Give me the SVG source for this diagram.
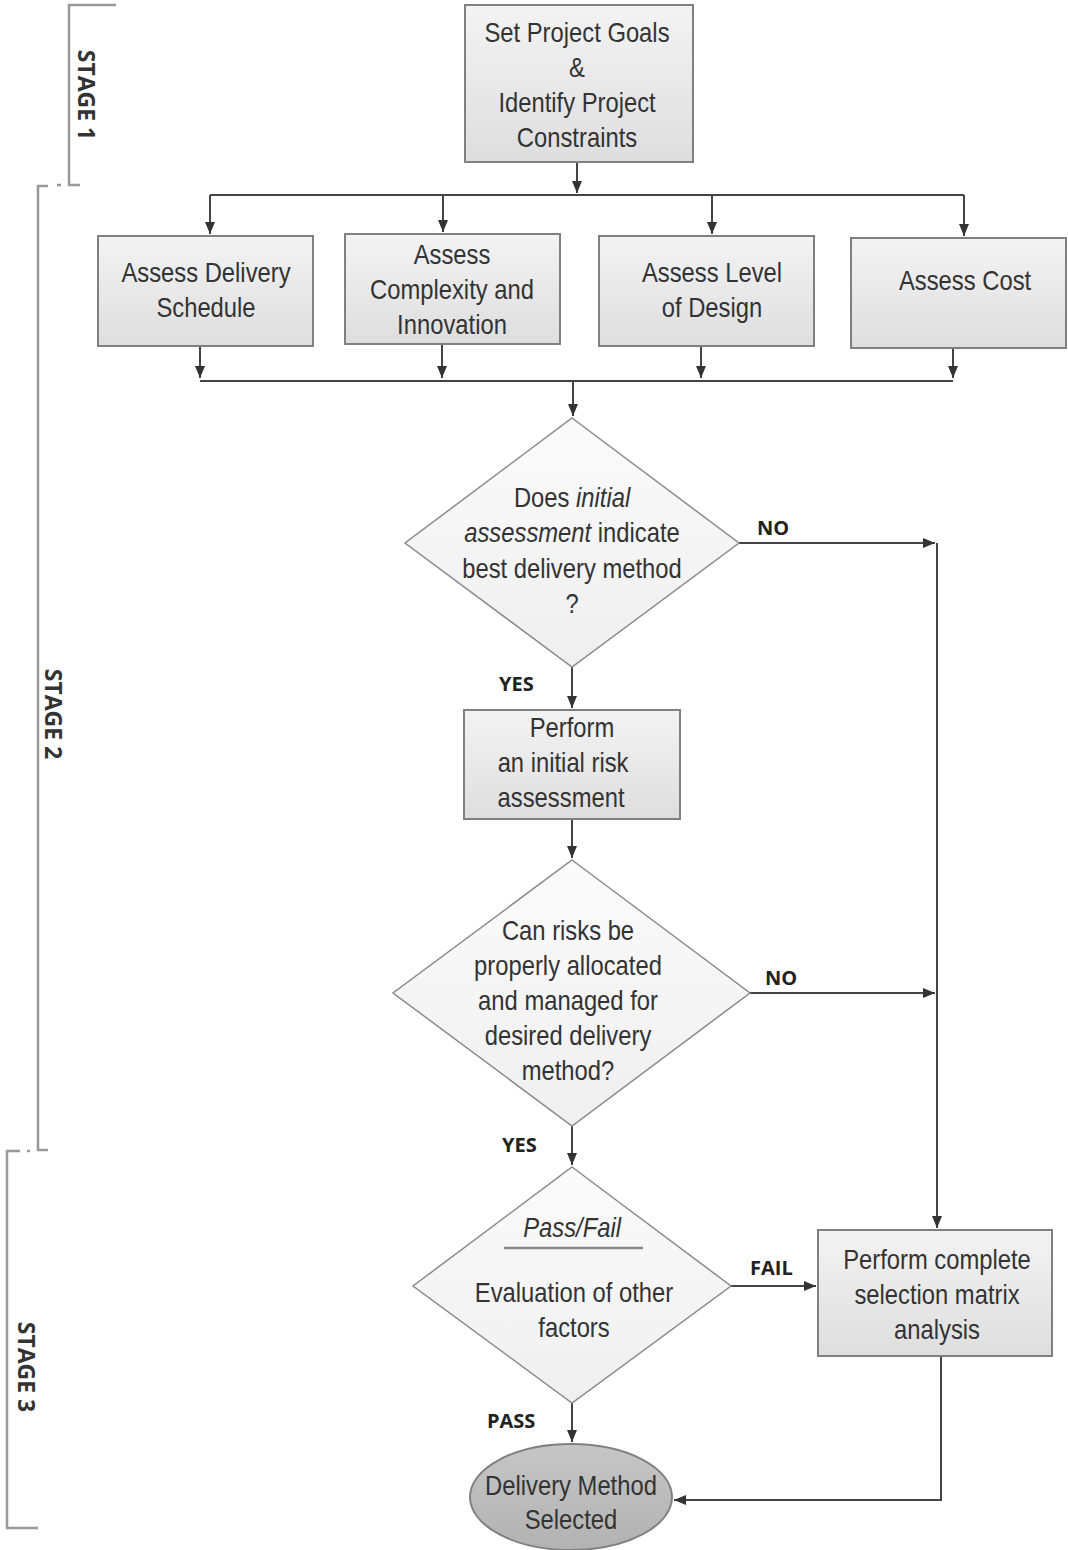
<svg xmlns="http://www.w3.org/2000/svg" width="1068" height="1550" viewBox="0 0 1068 1550">
<defs>
<linearGradient id="boxg" x1="0" y1="0" x2="0" y2="1">
<stop offset="0" stop-color="#f3f3f3"/><stop offset="1" stop-color="#dedede"/>
</linearGradient>
<linearGradient id="diag" x1="0" y1="0" x2="0" y2="1">
<stop offset="0" stop-color="#fbfbfb"/><stop offset="1" stop-color="#efefef"/>
</linearGradient>
<linearGradient id="ellg" x1="0" y1="0" x2="0" y2="1">
<stop offset="0" stop-color="#c6c6c6"/><stop offset="1" stop-color="#b2b2b2"/>
</linearGradient>
<marker id="ah" viewBox="0 0 12 10" refX="12" refY="5" markerWidth="12" markerHeight="10" markerUnits="userSpaceOnUse" orient="auto">
<path d="M0,0 L12,5 L0,10 z" fill="#333"/>
</marker>
</defs>
<style>
.box{fill:url(#boxg);stroke:#808080;stroke-width:2}
.dia{fill:url(#diag);stroke:#8a8a8a;stroke-width:1.5}
.ell{fill:url(#ellg);stroke:#808080;stroke-width:2}
.t{font-family:"Liberation Sans",Arial,sans-serif;font-size:28px;fill:#333;text-anchor:middle;transform-box:fill-box;transform-origin:center;transform:scaleX(0.85)}
.i{font-style:italic}
.lbl{font-family:"Open Sans","Liberation Sans",sans-serif;font-weight:bold;font-size:20px;fill:#222}
.stg{font-family:"Open Sans","Liberation Sans",sans-serif;font-weight:bold;font-size:23px;fill:#333;text-anchor:middle}
.br{fill:none;stroke:#999;stroke-width:2.5}
.c{fill:none;stroke:#444;stroke-width:2}
.ca{fill:none;stroke:#444;stroke-width:2;marker-end:url(#ah)}
</style>

<g id="stage-brackets">
<path class="br" d="M116,5 H69 V185 H80"/>
<path class="br" d="M48,186 H38 V1150 H48"/>
<line class="br" x1="57" y1="185" x2="61" y2="185"/>
<path class="br" d="M20,1151 H7 V1528 H38"/>
<line class="br" x1="27" y1="1151" x2="30" y2="1151"/>
<text class="stg" transform="translate(78,95) rotate(90)">STAGE 1</text>
<text class="stg" transform="translate(45,714) rotate(90)">STAGE 2</text>
<text class="stg" transform="translate(18,1367) rotate(90)">STAGE 3</text>
</g>

<g id="connectors">
<line class="ca" x1="577" y1="162" x2="577" y2="193"/>
<line class="c" x1="210" y1="195" x2="964" y2="195"/>
<line class="ca" x1="210" y1="195" x2="210" y2="234"/>
<line class="ca" x1="443" y1="195" x2="443" y2="232"/>
<line class="ca" x1="712" y1="195" x2="712" y2="234"/>
<line class="ca" x1="964" y1="195" x2="964" y2="236"/>
<line class="ca" x1="200" y1="346" x2="200" y2="378"/>
<line class="ca" x1="442" y1="344" x2="442" y2="378"/>
<line class="ca" x1="701" y1="346" x2="701" y2="378"/>
<line class="ca" x1="953" y1="348" x2="953" y2="378"/>
<line class="c" x1="200" y1="381" x2="953" y2="381"/>
<line class="ca" x1="573" y1="381" x2="573" y2="416"/>
<line class="ca" x1="739" y1="543" x2="935" y2="543"/>
<line class="ca" x1="572" y1="667" x2="572" y2="708"/>
<line class="ca" x1="572" y1="819" x2="572" y2="858"/>
<line class="ca" x1="750" y1="993" x2="935" y2="993"/>
<line class="ca" x1="937" y1="543" x2="937" y2="1228"/>
<line class="ca" x1="572" y1="1126" x2="572" y2="1165"/>
<line class="ca" x1="731" y1="1286" x2="816" y2="1286"/>
<line class="ca" x1="572" y1="1403" x2="572" y2="1442"/>
<polyline class="ca" points="941,1356 941,1500 674,1500"/>
<text class="lbl" x="757" y="535">NO</text>
<text class="lbl" x="765" y="985">NO</text>
<text class="lbl" x="499" y="691">YES</text>
<text class="lbl" x="502" y="1152">YES</text>
<text class="lbl" x="750" y="1275">FAIL</text>
<text class="lbl" x="487" y="1428">PASS</text>
</g>

<g id="n-goals">
<rect class="box" x="465" y="5" width="228" height="157"/>
<text class="t" x="577" y="42">Set Project Goals</text>
<text class="t" x="577" y="77">&amp;</text>
<text class="t" x="577" y="112">Identify Project</text>
<text class="t" x="577" y="147">Constraints</text>
</g>

<g id="n-schedule">
<rect class="box" x="98" y="236" width="215" height="110"/>
<text class="t" x="206" y="282">Assess Delivery</text>
<text class="t" x="206" y="317">Schedule</text>
</g>

<g id="n-complexity">
<rect class="box" x="345" y="234" width="215" height="110"/>
<text class="t" x="452" y="264">Assess</text>
<text class="t" x="452" y="299">Complexity and</text>
<text class="t" x="452" y="334">Innovation</text>
</g>

<g id="n-design">
<rect class="box" x="599" y="236" width="215" height="110"/>
<text class="t" x="712" y="282">Assess Level</text>
<text class="t" x="712" y="317">of Design</text>
</g>

<g id="n-cost">
<rect class="box" x="851" y="238" width="215" height="110"/>
<text class="t" x="965" y="290">Assess Cost</text>
</g>

<g id="n-initial">
<polygon class="dia" points="572,418 739,543 572,667 405,543"/>
<text class="t" x="572" y="507">Does <tspan class="i">initial</tspan></text>
<text class="t" x="572" y="542"><tspan class="i">assessment</tspan> indicate</text>
<text class="t" x="572" y="578">best delivery method</text>
<text class="t" x="572" y="613">?</text>
</g>

<g id="n-risk">
<rect class="box" x="464" y="710" width="216" height="109"/>
<text class="t" x="572" y="737">Perform</text>
<text class="t" x="563" y="772">an initial risk</text>
<text class="t" x="561" y="807">assessment</text>
</g>

<g id="n-allocate">
<polygon class="dia" points="572,860 750,993 572,1126 393,993"/>
<text class="t" x="568" y="940">Can risks be</text>
<text class="t" x="568" y="975">properly allocated</text>
<text class="t" x="568" y="1010">and managed for</text>
<text class="t" x="568" y="1045">desired delivery</text>
<text class="t" x="568" y="1080">method?</text>
</g>

<g id="n-passfail">
<polygon class="dia" points="572,1167 731,1286 572,1403 413,1286"/>
<text class="t i" x="572" y="1237">Pass/Fail</text>
<line x1="504" y1="1248" x2="643" y2="1248" stroke="#888" stroke-width="2.5"/>
<text class="t" x="574" y="1302">Evaluation of other</text>
<text class="t" x="574" y="1337">factors</text>
</g>

<g id="n-matrix">
<rect class="box" x="818" y="1230" width="234" height="126"/>
<text class="t" x="937" y="1269">Perform complete</text>
<text class="t" x="937" y="1304">selection matrix</text>
<text class="t" x="937" y="1339">analysis</text>
</g>

<g id="n-selected">
<ellipse class="ell" cx="571" cy="1497" rx="101" ry="53"/>
<text class="t" x="571" y="1495">Delivery Method</text>
<text class="t" x="571" y="1529">Selected</text>
</g>
</svg>
